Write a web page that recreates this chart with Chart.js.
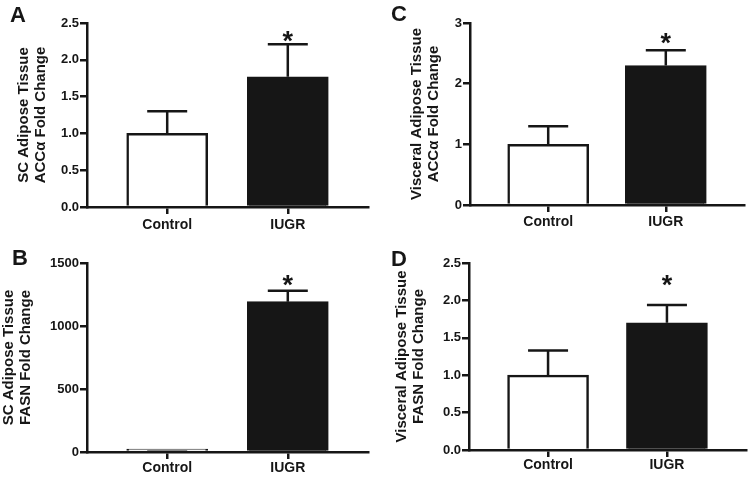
<!DOCTYPE html>
<html>
<head>
<meta charset="utf-8">
<script src="https://cdn.jsdelivr.net/npm/chart.js@4"></script>
<style>
  html, body { margin: 0; padding: 0; background: #ffffff; }
  #wrap { position: relative; width: 748px; height: 478px; }
  .cell { position: absolute; width: 374px; height: 239px; }
  canvas { display: block; }
</style>
</head>
<body>
<div id="wrap">
  <div class="cell" style="left:0;top:0"><canvas id="cA" width="374" height="239"></canvas></div>
  <div class="cell" style="left:374px;top:0"><canvas id="cC" width="374" height="239"></canvas></div>
  <div class="cell" style="left:0;top:239px"><canvas id="cB" width="374" height="239"></canvas></div>
  <div class="cell" style="left:374px;top:239px"><canvas id="cD" width="374" height="239"></canvas></div>
</div>
<script>
// ---- data ----
const groups = ['Control', 'IUGR'];

// A: SC adipose tissue ACCα
const meanA = [1.0, 1.77];
const semA  = [0.30, 0.44];
const sigA  = [null, 2.33];   // level of the significance asterisk
const yTicksA = [0, 0.5, 1.0, 1.5, 2.0, 2.5];

// B: SC adipose tissue FASN
const meanB = [1, 1193];
const semB  = [0.3, 87];
const sigB  = [null, 1373];
const yTicksB = [0, 500, 1000, 1500];

// C: Visceral adipose tissue ACCα
const meanC = [1.0, 2.30];
const semC  = [0.30, 0.25];
const sigC  = [null, 2.77];
const yTicksC = [0, 1, 2, 3];

// D: Visceral adipose tissue FASN
const meanD = [1.0, 1.70];
const semD  = [0.33, 0.24];
const sigD  = [null, 2.29];
const yTicksD = [0, 0.5, 1.0, 1.5, 2.0, 2.5];

// ---- style ----
const INK = '#161616';
const FAMILY = '"Liberation Sans", Arial, Helvetica, sans-serif';

function makePanel(id, p) {
  const errPlugin = {
    id: 'errbars_' + id,
    afterDatasetsDraw(chart) {
      const { ctx, scales: { x, y } } = chart;
      ctx.save();
      ctx.strokeStyle = INK;
      ctx.lineWidth = 2.5;
      ctx.lineCap = 'butt';
      groups.forEach((g, i) => {
        const px = x.getPixelForValue(i + 1);
        const base = y.getPixelForValue(p.mean[i]);
        const top = y.getPixelForValue(p.mean[i] + p.sem[i]);
        ctx.beginPath();
        ctx.moveTo(px, base);
        ctx.lineTo(px, top);
        ctx.moveTo(px - 20, top);
        ctx.lineTo(px + 20, top);
        ctx.stroke();
        if (p.sig[i] != null) {
          const sy = y.getPixelForValue(p.sig[i]);
          const size = 27;
          ctx.fillStyle = INK;
          ctx.font = 'bold ' + size + 'px ' + FAMILY;
          ctx.textAlign = 'center';
          ctx.textBaseline = 'alphabetic';
          ctx.fillText('*', px, sy + 0.55 * size);
        }
      });
      ctx.fillStyle = INK;
      ctx.font = 'bold 22px ' + FAMILY;
      ctx.textAlign = 'left';
      ctx.textBaseline = 'alphabetic';
      ctx.fillText(p.letter, p.lx, p.ly);
      ctx.restore();
    }
  };

  return new Chart(document.getElementById(id), {
    type: 'bar',
    data: {
      datasets: [{
        data: groups.map((g, i) => ({ x: i + 1, y: p.mean[i] })),
        backgroundColor: ['#ffffff', INK],
        borderColor: INK,
        borderWidth: 2.5,
        barThickness: 81,
        minBarLength: 3
      }]
    },
    options: {
      responsive: false,
      animation: false,
      devicePixelRatio: 1,
      layout: { padding: { top: p.top, right: p.right, left: 0, bottom: 0 } },
      plugins: { legend: { display: false }, tooltip: { enabled: false } },
      scales: {
        x: {
          type: 'linear',
          offset: false,
          bounds: 'data',
          min: 0.335,
          max: 2.665,
          afterBuildTicks: s => { s.ticks = groups.map((g, i) => ({ value: i + 1 })); },
          ticks: {
            callback: v => groups[Math.round(v) - 1],
            font: { family: FAMILY, size: 14, weight: 'bold' },
            color: INK,
            padding: p.lpad,
            autoSkip: false,
            maxRotation: 0
          },
          grid: { offset: false, drawOnChartArea: false, drawTicks: true, tickLength: 7, color: INK, lineWidth: 2.5 },
          border: { display: true, color: INK, width: 2.5, z: 1 },
          afterFit: s => { s.height = p.xh; }
        },
        y: {
          min: 0,
          max: p.ticks[p.ticks.length - 1],
          afterBuildTicks: s => { s.ticks = p.ticks.map(v => ({ value: v })); },
          ticks: {
            callback: v => Number(v).toFixed(p.dec),
            font: { family: FAMILY, size: 13, weight: 'bold' },
            color: INK,
            padding: 1
          },
          grid: { drawOnChartArea: false, drawTicks: true, tickLength: 7, color: INK, lineWidth: 2.5 },
          border: { display: true, color: INK, width: 2.5, z: 1 },
          title: {
            display: true,
            text: p.title,
            color: INK,
            font: { family: FAMILY, size: 15, weight: 'bold', lineHeight: 1.15 },
            padding: { top: p.tpad, bottom: 0 }
          },
          afterFit: s => { s.width = p.left; }
        }
      }
    },
    plugins: [errPlugin]
  });
}

makePanel('cA', { mean: meanA, sem: semA, sig: sigA, ticks: yTicksA, dec: 1,
  title: ['SC Adipose Tissue', 'ACCα Fold Change'], letter: 'A', lx: 10, ly: 22,
  left: 87, right: 6, top: 23, xh: 32, tpad: 15, lpad: 3 });
makePanel('cC', { mean: meanC, sem: semC, sig: sigC, ticks: yTicksC, dec: 0,
  title: ['Visceral Adipose Tissue', 'ACCα Fold Change'], letter: 'C', lx: 17, ly: 21,
  left: 96, right: 4, top: 23, xh: 34, tpad: 34, lpad: 2 });
makePanel('cB', { mean: meanB, sem: semB, sig: sigB, ticks: yTicksB, dec: 0,
  title: ['SC Adipose Tissue', 'FASN Fold Change'], letter: 'B', lx: 12, ly: 26,
  left: 87, right: 6, top: 24, xh: 26, tpad: 0, lpad: 1 });
makePanel('cD', { mean: meanD, sem: semD, sig: sigD, ticks: yTicksD, dec: 1,
  title: ['Visceral Adipose Tissue', 'FASN Fold Change'], letter: 'D', lx: 17, ly: 27,
  left: 95, right: 2, top: 24, xh: 28, tpad: 19, lpad: 0 });
</script>
</body>
</html>
